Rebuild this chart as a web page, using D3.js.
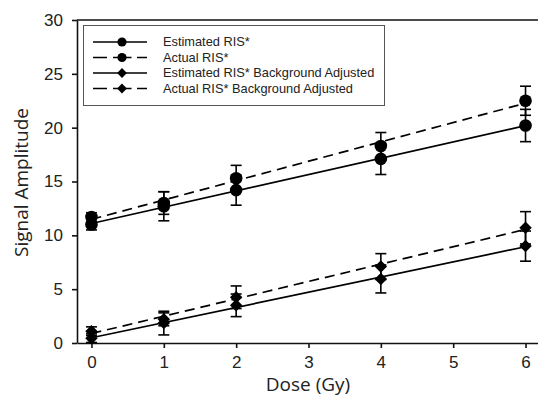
<!DOCTYPE html>
<html>
<head>
<meta charset="utf-8">
<script src="https://cdn.jsdelivr.net/npm/d3@7"></script>
<style>
  body { margin: 0; background: #fff; }
  svg { display: block; }
</style>
</head>
<body>
<svg width="538" height="397"></svg>
<script>
// dose values (Gy)
var doses = [0, 1, 2, 4, 6];

// series values
var estRIS = [11.0, 12.7, 14.2, 17.1, 20.2];
var estRISErr = [0.5, 1.35, 1.4, 1.45, 1.5];
var actRIS = [11.7, 13.0, 15.3, 18.3, 22.5];
var actRISErr = [0.4, 1.05, 1.2, 1.25, 1.35];
var estBg = [0.45, 1.85, 3.5, 5.95, 9.0];
var estBgErr = [0.4, 1.1, 1.05, 1.3, 1.4];
var actBg = [1.1, 2.2, 4.25, 7.1, 10.7];
var actBgErr = [0.4, 0.6, 1.05, 1.2, 1.5];

var yTicks = [0, 5, 10, 15, 20, 25, 30];
var xTicks = [0, 1, 2, 3, 4, 5, 6];

var seriesNames = ["Estimated RIS*", "Actual RIS*", "Estimated RIS* Background Adjusted", "Actual RIS* Background Adjusted"];

var series = [
    { name: seriesNames[0], vals: estRIS, err: estRISErr, dashed: false, shape: "circle" },
    { name: seriesNames[1], vals: actRIS, err: actRISErr, dashed: true, shape: "circle" },
    { name: seriesNames[2], vals: estBg, err: estBgErr, dashed: false, shape: "diamond" },
    { name: seriesNames[3], vals: actBg, err: actBgErr, dashed: true, shape: "diamond" }
];

var svg = d3.select("svg");
var marge = { top: 20, left: 77, bottom: 54, right: -2 };

var x = d3.scaleLinear().domain([-0.2, 6.2]).range([marge.left, 540]);
var y = d3.scaleLinear().domain([0, 30]).range([343, marge.top]);

var sym = {
    circle: d3.symbol().type(d3.symbolCircle).size(125),
    diamond: d3.symbol().type(d3.symbolSquare).size(78)
};

function markerRot(shape) { return shape === "diamond" ? " rotate(45)" : ""; }

// least squares fit lines, like the original plot
function fit(xs, ys) {
    var n = xs.length, mx = d3.mean(xs), my = d3.mean(ys);
    var sxy = 0, sxx = 0;
    for (var i = 0; i < n; i++) {
        sxy += (xs[i] - mx) * (ys[i] - my);
        sxx += (xs[i] - mx) * (xs[i] - mx);
    }
    var b = sxy / sxx;
    return { a: my - b * mx, b: b };
}

// axes
var yAxis = svg.append("g")
    .attr("transform", "translate(" + marge.left + ",0)")
    .call(d3.axisLeft(y).tickValues(yTicks).tickFormat(d3.format("d")).tickSize(5).tickPadding(9).tickSizeOuter(0));
var xAxis = svg.append("g")
    .attr("transform", "translate(0,343)")
    .call(d3.axisBottom(x).tickValues(xTicks).tickFormat(d3.format("d")).tickSize(5).tickPadding(8).tickSizeOuter(0));

[yAxis, xAxis].forEach(function (ax) {
    ax.selectAll("path, line").attr("stroke", "#111").attr("stroke-width", 1.6);
    ax.selectAll("text")
        .attr("fill", "#222")
        .style("font-family", "'Liberation Sans', Arial, sans-serif")
        .style("font-size", "17px");
});

// top border
svg.append("line")
    .attr("x1", marge.left).attr("x2", 538)
    .attr("y1", y(30)).attr("y2", y(30))
    .attr("stroke", "#111").attr("stroke-width", 1.6);

// axis titles
svg.append("text")
    .attr("transform", "translate(28," + ((y(0) + y(30)) / 2 + 1) + ") rotate(-90)")
    .attr("text-anchor", "middle")
    .style("font-family", "'Open Sans', sans-serif")
    .style("font-size", "19px")
    .attr("fill", "#222")
    .text("Signal Amplitude");

svg.append("text")
    .attr("x", 308).attr("y", 391)
    .attr("text-anchor", "middle")
    .style("font-family", "'Open Sans', sans-serif")
    .style("font-size", "19px")
    .attr("fill", "#222")
    .text("Dose (Gy)");

var g = svg.append("g");

series.forEach(function (s) {
    var f = fit(doses, s.vals);
    g.append("line")
        .attr("x1", x(0)).attr("x2", x(6))
        .attr("y1", y(f.a)).attr("y2", y(f.a + f.b * 6))
        .attr("stroke", "#000").attr("stroke-width", 1.7)
        .attr("stroke-dasharray", s.dashed ? "10,6" : null);

    var eb = g.append("g").selectAll("g")
        .data(doses)
        .enter().append("g");
    eb.append("line")
        .attr("x1", function (d) { return x(d); })
        .attr("x2", function (d) { return x(d); })
        .attr("y1", function (d, i) { return y(s.vals[i] - s.err[i]); })
        .attr("y2", function (d, i) { return y(s.vals[i] + s.err[i]); })
        .attr("stroke", "#000").attr("stroke-width", 1.6);
    [-1, 1].forEach(function (sign) {
        eb.append("line")
            .attr("x1", function (d) { return x(d) - 5.5; })
            .attr("x2", function (d) { return x(d) + 5.5; })
            .attr("y1", function (d, i) { return y(s.vals[i] + sign * s.err[i]); })
            .attr("y2", function (d, i) { return y(s.vals[i] + sign * s.err[i]); })
            .attr("stroke", "#000").attr("stroke-width", 1.6);
    });

    g.append("g").selectAll("path")
        .data(doses)
        .enter().append("path")
        .attr("d", sym[s.shape]())
        .attr("transform", function (d, i) { return "translate(" + x(d) + "," + y(s.vals[i]) + ")" + markerRot(s.shape); })
        .attr("fill", "#000");
});

// legend
var legend = svg.append("g");
legend.append("rect")
    .attr("x", 83.5).attr("y", 25.5)
    .attr("width", 301).attr("height", 80)
    .attr("fill", "#fff").attr("stroke", "#555").attr("stroke-width", 1);

var items = legend.selectAll("g.item")
    .data(series)
    .enter().append("g")
    .attr("class", "item")
    .attr("transform", function (d, i) { return "translate(0," + (42 + i * 15.5) + ")"; });

items.append("line")
    .attr("x1", 93).attr("x2", 147)
    .attr("stroke", "#000").attr("stroke-width", 1.6)
    .attr("stroke-dasharray", function (d) { return d.dashed ? "14,6,18.5,5.5,10.5" : null; });

items.append("path")
    .attr("d", function (d) { return d.shape === "circle" ? d3.symbol().type(d3.symbolCircle).size(66)() : d3.symbol().type(d3.symbolSquare).size(48)(); })
    .attr("transform", function (d) { return "translate(122,0)" + markerRot(d.shape); })
    .attr("fill", "#000");

items.append("text")
    .attr("x", 163).attr("dy", "0.35em")
    .style("font-family", "'Liberation Sans', Arial, sans-serif")
    .style("font-size", "12.8px")
    .attr("fill", "#222")
    .text(function (d) { return d.name; });
</script>
</body>
</html>
